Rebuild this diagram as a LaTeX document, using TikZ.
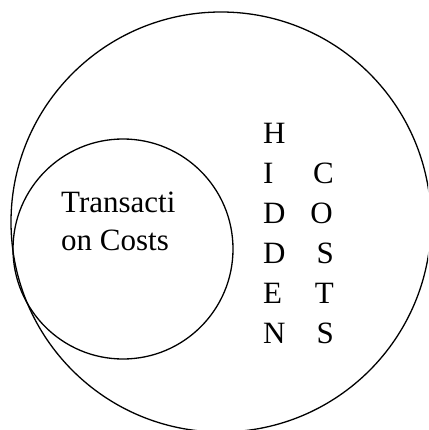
\documentclass[tikz,border=0pt]{standalone}
\usepackage{fontspec}
\setmainfont{Liberation Serif}
\begin{document}
\begin{tikzpicture}[x=1pt,y=-1pt,
  ring/.style={draw=black,line width=1.3pt},
  letter/.style={font=\fontsize{31}{31}\selectfont,inner sep=0pt}]
\useasboundingbox (0,0) rectangle (428,430);
\clip (0,0) rectangle (428,430);
\fill[white] (0,0) rectangle (428,430);
\node[ring,circle,minimum size=420pt,inner sep=0pt] (big) at (221,222) {};
\node[ring,circle,minimum size=220pt,inner sep=0pt] (small) at (123,249) {};
\node[letter,anchor=base west] (t1) at (61,212) {Transacti};
\node[letter,anchor=base west] (t2) at (61,250) {on Costs};
\node[letter,anchor=base west] (h1) at (263,144) {H};
\node[letter,anchor=base west] (h2) at (263,183) {I};
\node[letter,anchor=base west] (h3) at (263,223) {D};
\node[letter,anchor=base west] (h4) at (263,263) {D};
\node[letter,anchor=base west] (h5) at (263,303) {E};
\node[letter,anchor=base west] (h6) at (263,343) {N};
\node[letter,anchor=base east] (c1) at (334,183) {C};
\node[letter,anchor=base east] (c2) at (333,223) {O};
\node[letter,anchor=base east] (c3) at (334,263) {S};
\node[letter,anchor=base east] (c4) at (334,303) {T};
\node[letter,anchor=base east] (c5) at (334,343) {S};
\end{tikzpicture}
\end{document}
